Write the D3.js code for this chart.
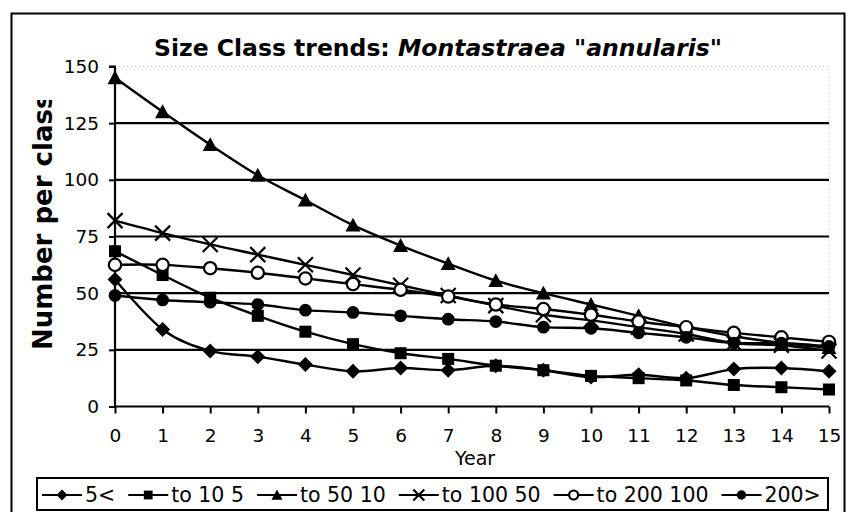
<!DOCTYPE html>
<html><head><meta charset="utf-8">
<script src="https://cdn.jsdelivr.net/npm/d3@7"></script>
<style>
html,body{margin:0;padding:0;background:#fff;}
svg{display:block;}
text{font-family:"DejaVu Sans",Verdana,sans-serif;fill:#000;}
</style></head>
<body>
<svg id="chart" width="850" height="512"></svg>
<script>
// ---- data ----
const years = [0,1,2,3,4,5,6,7,8,9,10,11,12,13,14,15];
const yTicks = [0,25,50,75,100,125,150];
const seriesNames = ["5<", "to 10 5", "to 50 10", "to 100 50", "to 200 100", "200>"];
const s5   = [56, 34, 24.5, 22, 18.5, 15.5, 17, 16, 18, 16, 13, 14, 12.5, 16.5, 17, 15.5];
const s10  = [68.5, 58, 48, 40, 33, 27.5, 23.5, 21, 18, 16, 13.5, 12.5, 11.5, 9.5, 8.5, 7.5];
const s50  = [145, 130, 115.5, 102, 91, 80, 71, 63, 55.5, 50, 45, 40, 35, 31, 28, 26];
const s100 = [82, 76.5, 71.5, 67, 62.5, 58, 53.5, 49, 44.5, 40.5, 38, 35, 32, 28, 27, 24.5];
const s200 = [62.5, 62.5, 61, 59, 56.5, 54, 51.5, 48.5, 45, 43, 40.5, 37.5, 35, 32.5, 30.5, 28.5];
const sBig = [49, 47, 46, 45, 42.5, 41.5, 40, 38.5, 37.5, 35, 34.5, 32.5, 30.5, 28, 28, 26.5];
const seriesValues = [s5, s10, s50, s100, s200, sBig];
const markerTypes = ["diamond", "square", "triangle", "x", "ocircle", "circle"];

// ---- layout ----
const svg = d3.select("#chart");
const L = 115, R = 829, T = 66.5, B = 406.5;
const x = d3.scaleLinear().domain([0, 15]).range([L, R]);
const y = d3.scaleLinear().domain([0, 150]).range([B, T]);

// outer frame
svg.append("rect").attr("x", 11.5).attr("y", 13.5).attr("width", 833).attr("height", 510)
  .attr("fill", "none").attr("stroke", "#000").attr("stroke-width", 2);

// title
const title = svg.append("text").attr("x", 438).attr("y", 56).attr("text-anchor", "middle")
  .style("font-size", "23.5px").style("font-weight", "bold");
title.append("tspan").text("Size Class trends: ");
title.append("tspan").style("font-style", "italic").text("Montastraea \"annularis\"");

// plot area faint border
svg.append("rect").attr("x", L).attr("y", T).attr("width", R - L).attr("height", B - T)
  .attr("fill", "none").attr("stroke", "#bbb").attr("stroke-width", 1).attr("stroke-dasharray", "1,3");

// gridlines
svg.append("g").selectAll("line").data(yTicks.filter(v => v > 0 && v < 150)).join("line")
  .attr("x1", L).attr("x2", R).attr("y1", d => y(d)).attr("y2", d => y(d))
  .attr("stroke", "#000").attr("stroke-width", 2.2);

// axes
const yAxis = d3.axisLeft(y).tickValues(yTicks).tickSize(6).tickPadding(10);
const gy = svg.append("g").attr("transform", `translate(${L},0)`).call(yAxis);
gy.select(".domain").attr("stroke-width", 2.2).attr("d", `M-6,${T}H0V${B}`);
gy.selectAll(".tick line").attr("stroke-width", 2);
gy.selectAll(".tick text").style("font-size", "18.5px").style("font-family", "DejaVu Sans");

const xAxis = d3.axisBottom(x).tickValues(years).tickSize(7).tickPadding(15).tickFormat(d3.format("d"));
const gx = svg.append("g").attr("transform", `translate(0,${B})`).call(xAxis);
gx.select(".domain").attr("stroke-width", 2.2).attr("d", `M${L},0H${R}`);
gx.selectAll(".tick line").attr("stroke-width", 2);
gx.selectAll(".tick text").style("font-size", "18.5px").style("font-family", "DejaVu Sans");

// axis titles
svg.append("text").attr("x", 475).attr("y", 465).attr("text-anchor", "middle")
  .style("font-size", "19px").text("Year");

svg.append("defs").append("clipPath").attr("id", "ytclip")
  .append("rect").attr("x", 0).attr("y", 100).attr("width", 110).attr("height", 400);
svg.append("g").attr("clip-path", "url(#ytclip)")
  .append("text")
  .attr("transform", "translate(52,350) rotate(-90)").attr("text-anchor", "start")
  .style("font-size", "26px").style("font-weight", "bold").text("Number per class");

// marker drawing
function drawMarker(g, type, s) {
  const h = s / 2;
  if (type === "diamond") g.append("path").attr("d", `M0,${-h}L${h},0L0,${h}L${-h},0Z`).attr("fill", "#000");
  else if (type === "square") g.append("rect").attr("x", -h * 0.8).attr("y", -h * 0.8).attr("width", s * 0.8).attr("height", s * 0.8).attr("fill", "#000");
  else if (type === "triangle") g.append("path").attr("d", `M0,${-h}L${h},${h * 0.85}L${-h},${h * 0.85}Z`).attr("fill", "#000");
  else if (type === "x") g.append("path").attr("d", `M${-h},${-h}L${h},${h}M${h},${-h}L${-h},${h}`).attr("stroke", "#000").attr("stroke-width", 2.2).attr("fill", "none");
  else if (type === "ocircle") g.append("circle").attr("r", h * 0.82).attr("fill", "#fff").attr("stroke", "#000").attr("stroke-width", 2.2);
  else if (type === "circle") g.append("circle").attr("r", h * 0.85).attr("fill", "#000");
}

const line = d3.line().x((d, i) => x(years[i])).y(d => y(d)).curve(d3.curveCardinal.tension(0));
const plot = svg.append("g");
seriesValues.forEach((vals, si) => {
  const g = plot.append("g");
  g.append("path").attr("d", line(vals)).attr("fill", "none").attr("stroke", "#000").attr("stroke-width", 2.4);
  vals.forEach((v, i) => {
    const m = g.append("g").attr("transform", `translate(${x(years[i])},${y(v)})`);
    drawMarker(m, markerTypes[si], 15);
  });
});

// legend
const lg = svg.append("g");
lg.append("rect").attr("x", 37).attr("y", 478).attr("width", 791).attr("height", 32)
  .attr("fill", "#fff").attr("stroke", "#000").attr("stroke-width", 2);
let cx = 42;
const ly = 495;
seriesNames.forEach((name, i) => {
  const g = lg.append("g");
  g.append("line").attr("x1", cx).attr("x2", cx + 40).attr("y1", ly).attr("y2", ly).attr("stroke", "#000").attr("stroke-width", 2);
  const m = g.append("g").attr("transform", `translate(${cx + 20},${ly})`);
  drawMarker(m, markerTypes[i], 11);
  const t = g.append("text").attr("x", cx + 43).attr("y", ly).attr("dy", "0.36em")
    .style("font-size", "20.5px").text(name);
  cx = cx + 43 + t.node().getComputedTextLength() + 13;
});
</script>
</body></html>
